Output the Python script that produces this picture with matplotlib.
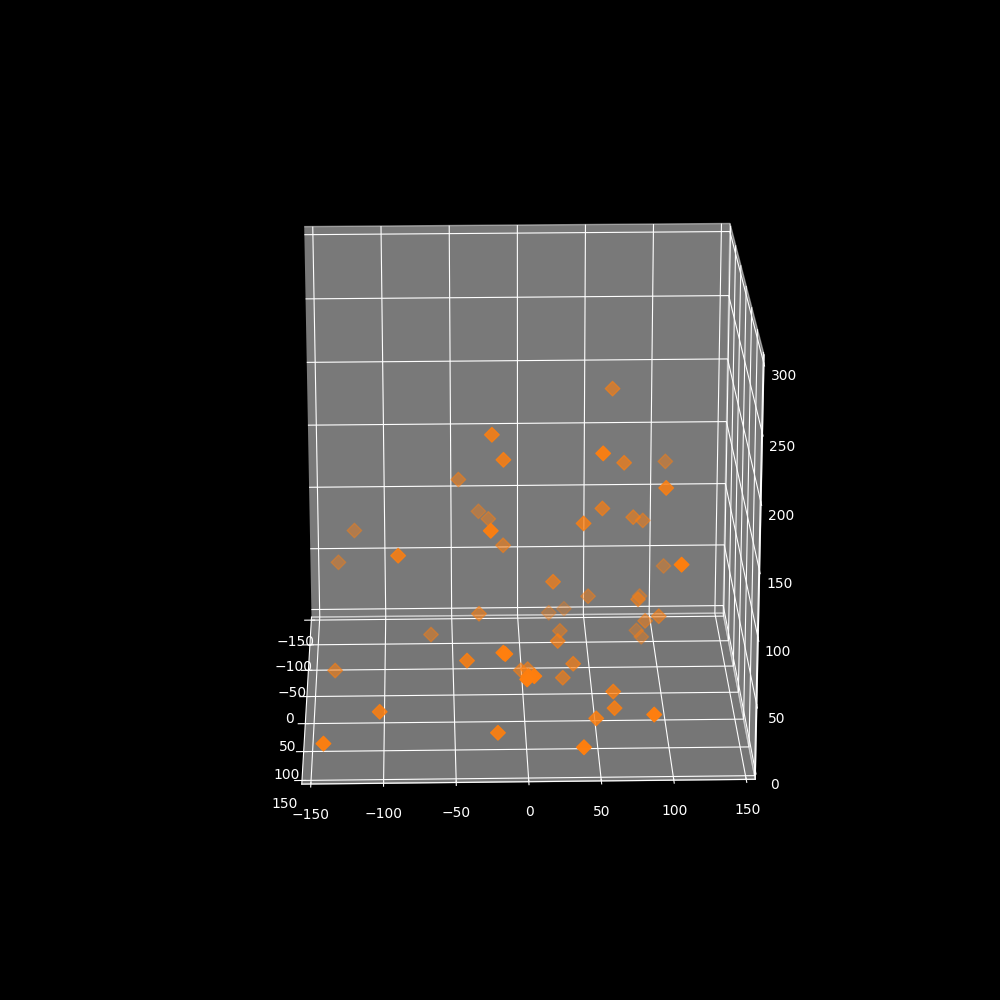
import matplotlib
matplotlib.use('Agg')
import matplotlib.pyplot as plt

x_vals = [67, -22, -14, 55, 74, 108, 101, -45, -30,
          -23, -24, -13, -122, -134, -89, 58, 43, 82,
          90, 107, 108, 22, 50, 89, 85, 22, 34,
          -31, 91, 100, 87, 90, 29, 25, -66, -136,
          -41, -16, -15, 36, -1, 4, 0, 5, 1,
          29, 63, 63, 50, 88, -103, -20, -142, 39]
y_vals = [-77, 3, 9, 42, -41, -110, 16, -88, -114,
          -95, 60, -55, -110, -101, 32, -29, 7, -61,
          -78, -100, 86, -11, -75, -92, -40, -105, -123,
          -37, -52, -36, -95, -82, -66, 3, -66, -22,
          58, 90, 107, 8, -19, -21, 113, 112, 112,
          -4, 49, 70, 72, 122, 70, 96, 112, 130]
z_vals = [204, 197, 180, 196, 159, 135, 160, 130, 95,
          96, 145, 90, 82, 60, 116, 128, 130, 109,
          100, 55, 128, 78, 41, 34, 52, 16, 12,
          43, 30, 40, 5, 5, 17, 37, 15, 5,
          45, 64, 70, 21, 5, 5, 53, 55, 55,
          5, 16, 12, 5, 29, 11, 5, 5, 8]

plt.style.use('dark_background')

fig = plt.figure(figsize=(10, 10), dpi=100)
ax = fig.add_subplot(111, projection='3d')
ax.scatter(x_vals, y_vals, z_vals, c='#ff7f0e', marker='D', s=55)

# limits carry the small margin round the -150..150 and 0..300 ticks
ax.set_xlim(156.25, -156.25)
ax.set_ylim(-156.25, 156.25)
ax.set_zlim(-6.25, 306.25)
ax.set_box_aspect((1, 0.995, 0.985), zoom=0.953)
ax.view_init(elev=20, azim=88.5)
ax.zaxis.set_ticks_position('upper')
ax.yaxis.set_pane_color((0.95, 0.95, 0.95, 0.5))

plt.savefig('out.png')
